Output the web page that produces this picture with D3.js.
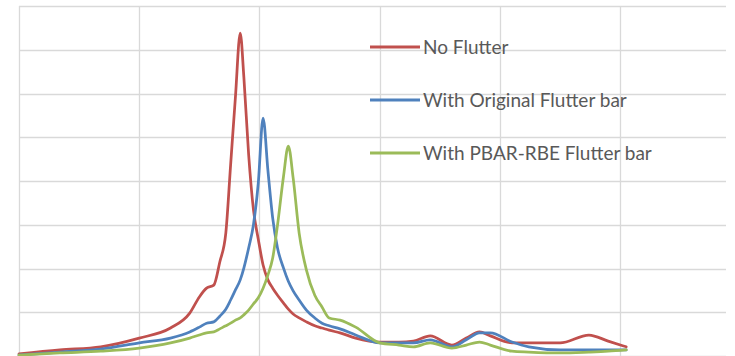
<!DOCTYPE html>
<html>
<head>
<meta charset="utf-8">
<script src="https://cdn.jsdelivr.net/npm/d3@7"></script>
<style>
  body { margin: 0; background: #fff; }
  svg { display: block; }
</style>
</head>
<body>
<div id="chart"></div>
<script>
// frequency samples (shared by all series)
const freq = [0, 1.7, 3.4, 5, 6.3, 7.1, 7.5, 7.8, 8.1, 8.35, 8.6, 8.8, 9, 9.2, 9.35, 9.55, 9.75, 9.95,
  10.15, 10.35, 10.55, 10.75, 11, 11.2, 11.4, 11.65, 11.95, 12.3, 12.6, 12.9, 13.35, 14, 15, 15.8,
  16.4, 17.1, 18, 18.6, 19.15, 19.6, 20.5, 21.2, 22.5, 23.7, 24.5, 25.25];

const noFlutter = [0.05, 0.14, 0.21, 0.41, 0.64, 0.98, 1.35, 1.55, 1.62, 2.15, 2.81, 4.37, 5.92, 7.38, 6.38,
  4.6, 3.34, 2.67, 2.08, 1.74, 1.55, 1.39, 1.21, 1.07, 0.96, 0.87, 0.78, 0.69, 0.64, 0.59, 0.53, 0.41,
  0.32, 0.32, 0.34, 0.46, 0.25, 0.41, 0.55, 0.46, 0.30, 0.30, 0.30, 0.48, 0.34, 0.21];

const originalBar = [0.02, 0.09, 0.16, 0.30, 0.41, 0.55, 0.66, 0.75, 0.78, 0.91, 1.07, 1.28, 1.51, 1.74, 2.01,
  2.47, 3.0, 3.95, 5.44, 4.25, 3.15, 2.47, 2.01, 1.71, 1.49, 1.28, 1.05, 0.87, 0.75, 0.69, 0.62, 0.48,
  0.30, 0.30, 0.30, 0.37, 0.21, 0.37, 0.53, 0.53, 0.32, 0.21, 0.14, 0.14, 0.14, 0.14];

const pbarBar = [0.02, 0.07, 0.11, 0.18, 0.30, 0.41, 0.48, 0.53, 0.55, 0.62, 0.69, 0.75, 0.82, 0.87, 0.94,
  1.05, 1.19, 1.33, 1.55, 1.85, 2.24, 2.99, 4.11, 4.80, 4.07, 2.81, 1.97, 1.39, 1.12, 0.87, 0.82, 0.66,
  0.30, 0.25, 0.21, 0.30, 0.18, 0.25, 0.32, 0.25, 0.11, 0.09, 0.07, 0.09, 0.11, 0.14];

const seriesNames = ['No Flutter', 'With Original Flutter bar', 'With PBAR-RBE Flutter bar'];
const seriesColors = ['#c0504d', '#4f81bd', '#9bbb59'];
const xTicks = [0, 5, 10, 15, 20, 25];
const yTicks = [0, 1, 2, 3, 4, 5, 6, 7, 8];

const width = 735, height = 356;

const svg = d3.select('#chart').append('svg')
    .attr('width', width)
    .attr('height', height);

const x = d3.scaleLinear().domain([0, 29.4]).range([19, 726]);
const y = d3.scaleLinear().domain([0, 8]).range([356, 6]);

// gridlines
svg.append('g').selectAll('line')
    .data(yTicks)
    .enter().append('line')
    .attr('x1', x(0)).attr('x2', x(29.4))
    .attr('y1', d => Math.round(y(d)) + 0.5)
    .attr('y2', d => Math.round(y(d)) + 0.5)
    .attr('stroke', '#d9d9d9')
    .attr('stroke-width', 1.3);

svg.append('g').selectAll('line')
    .data(xTicks)
    .enter().append('line')
    .attr('x1', d => Math.round(x(d)) + 0.5)
    .attr('x2', d => Math.round(x(d)) + 0.5)
    .attr('y1', y(8)).attr('y2', y(0))
    .attr('stroke', '#d9d9d9')
    .attr('stroke-width', 1.3);

// curves
const series = [noFlutter, originalBar, pbarBar];
const line = d3.line()
    .x((d, i) => x(freq[i]))
    .y(d => y(d))
    .curve(d3.curveMonotoneX);

svg.append('g').selectAll('path')
    .data(series)
    .enter().append('path')
    .attr('d', line)
    .attr('fill', 'none')
    .attr('stroke', (d, i) => seriesColors[i])
    .attr('stroke-width', 2.75)
    .attr('stroke-linejoin', 'round')
    .attr('stroke-linecap', 'round');

// legend
const legend = svg.append('g').selectAll('g')
    .data(seriesNames)
    .enter().append('g')
    .attr('transform', (d, i) => `translate(370,${47 + i * 53})`);

legend.append('line')
    .attr('x1', 0).attr('x2', 50)
    .attr('stroke', (d, i) => seriesColors[i])
    .attr('stroke-width', 3);

legend.append('text')
    .attr('x', 53)
    .attr('dy', '0.35em')
    .attr('fill', '#595959')
    .style('font-family', 'Lato, "Open Sans", sans-serif')
    .style('font-size', '19px')
    .text(d => d);
</script>
</body>
</html>
